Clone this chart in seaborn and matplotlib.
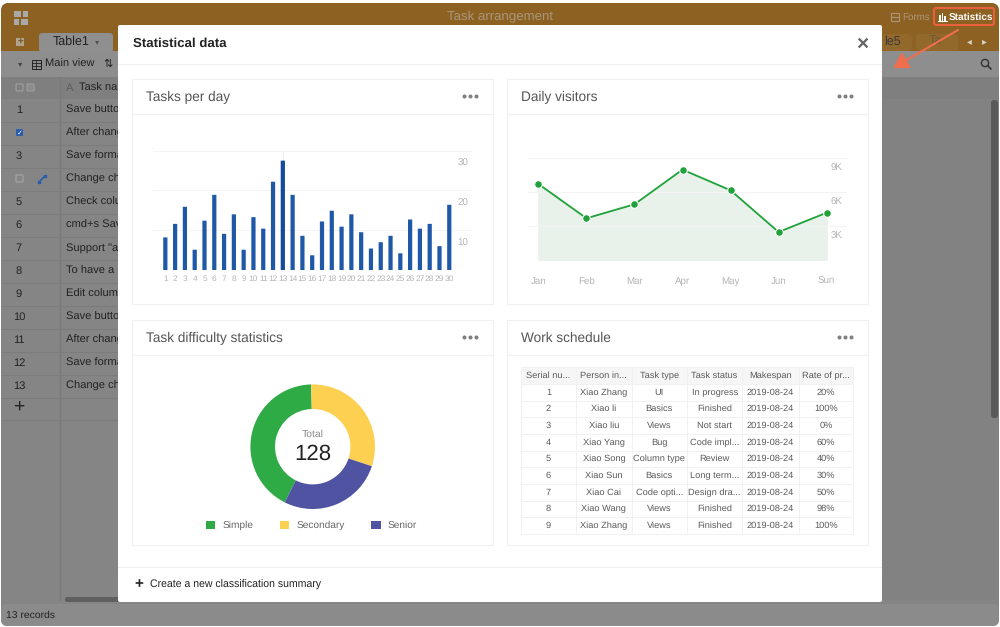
import seaborn as sns
sns.set()
import matplotlib.pyplot as plt
import numpy as np
import pandas as pd
from matplotlib.patches import FancyBboxPatch, Rectangle, FancyArrowPatch, Circle

plt.rcParams['font.family'] = ['Liberation Sans', 'DejaVu Sans']
plt.rcParams['text.hinting'] = 'no_hinting' # small labels were cramped

# data
DAYS = [str(i) for i in range(1,31)]
TASKS = [8.2,11.6,15.9,5.1,12.4,18.9,9.1,14,5.1,13.3,10.4,22.2,27.5,18.9,8.6,3.7,12.2,14.9,10.9,14,9.5,5.4,7,8.6,4.2,12.7,10.4,11.6,6,16.4]
TASK_TICKS = [0,10,20,30]

MONTHS = ['Jan','Feb','Mar','Apr','May','Jun','Sun']
VISITORS = [6690,3670,4900,7950,6130,2460,4160]
VISITOR_TICKS = [0,3000,6000,9000]

LEVELS = ['Simple','Secondary','Senior']
LEVEL_COUNTS = [54,39,35]
LEVEL_COLORS = ['#2fab46','#fdd052','#5053a2']

TABLE_HEAD = ['Serial nu...','Person in...','Task type','Task status','Makespan','Rate of pr...']
SERIALS = ['1','2','3','4','5','6','7','8','9']
PERSONS = ['Xiao Zhang','Xiao li','Xiao liu','Xiao Yang','Xiao Song','Xiao Sun','Xiao Cai','Xiao Wang','Xiao Zhang']
TASK_TYPES = ['UI','Basics','Views','Bug','Column type','Basics','Code opti...','Views','Views']
TASK_STATES = ['In progress','Finished','Not start','Code impl...','Review','Long term...','Design dra...','Finished','Finished']
SPANS = ['2019-08-24']*9
RATES = ['20%','100%','0%','60%','40%','30%','50%','98%','100%']

ROW_NAMES = ['Save button','After change','Save format','Change check','Check column','cmd+s Save','Support "at','To have a hint','Edit column','Save button','After change','Save format','Change check']

GRID = '#f4f4f6'
TICK = '#b4b4b4'


def panel(fig,x0,y0,x1,y1):
    # axes from pixel box of the 1000x627 picture
    ax = fig.add_axes([x0/1000,1-y1/627,(x1-x0)/1000,(y1-y0)/627])
    ax.set_facecolor('none')
    ax.grid(False)
    for side in ax.spines.values():
        side.set_visible(False)
    return ax

def box(ax,x0,y0,x1,y1,color,edge='none',round_by=0,zorder=1,lw=1):
    if round_by:
        patch = FancyBboxPatch((x0,y0),x1-x0,y1-y0,boxstyle='round,pad=0,rounding_size=%s'%round_by,fc=color,ec=edge,lw=lw,zorder=zorder)
    else:
        patch = Rectangle((x0,y0),x1-x0,y1-y0,fc=color,ec=edge,lw=lw,zorder=zorder)
    ax.add_patch(patch)

def draw_window(ax):
    ax.set_xlim(0,1000)
    ax.set_ylim(627,0)
    ax.set_axis_off()
    box(ax,1,3,999,626,'#858585',round_by=8)
    box(ax,1,3,999,52,'#8d6122',round_by=8)
    box(ax,1,40,999,52,'#8d6122')
    box(ax,39,33,113,52,'#8f8f8f',round_by=3,zorder=2)
    box(ax,1,51,999,77,'#8e8e8e',zorder=2)
    box(ax,1,77,999,99,'#7f7f7f',zorder=2)
    box(ax,882,99,999,600,'#828282',zorder=2)
    box(ax,1,604,999,626,'#8b8b8b',round_by=6,zorder=2)
    # logo and tab row
    for x,y,w,h in [(14,11,7,6),(23,11,5,6),(14,19,5,6),(21,19,7,6)]:
        box(ax,x,y,x+w,y+h,'#a9a9a9',zorder=3)
    box(ax,16,38,24,46,'#b0a48e',zorder=3)
    ax.text(20,42,'+',fontsize=7,fontweight='bold',color='#7a5520',ha='center',va='center',zorder=4)
    ax.text(71,42,'Table1',fontsize=9,color='#222222',ha='center',va='center',zorder=3)
    ax.text(97,42,'▾',fontsize=6,color='#555555',ha='center',va='center',zorder=3)
    ax.text(500,17,'Task arrangement',fontsize=9.5,color='#a9977c',ha='center',va='center',zorder=3)
    box(ax,882,34,912,51,'#92682b',round_by=3,zorder=2)
    box(ax,916,34,958,51,'#92682b',round_by=3,zorder=2)
    ax.text(884,42,'le5',fontsize=9,color='#3c3c3c',va='center',zorder=3)
    ax.text(929,42,'Ta',fontsize=9,color='#6e5a3c',va='center',zorder=3)
    ax.text(969,42,'◂',fontsize=7,color='#d8d0c0',ha='center',va='center',zorder=3)
    ax.text(984,42,'▸',fontsize=7,color='#d8d0c0',ha='center',va='center',zorder=3)
    box(ax,891,13,899,21,'none',edge='#a9977c',zorder=3,lw=.8)
    ax.plot([891,899],[17,17],color='#a9977c',lw=.8,zorder=3)
    ax.text(902,17,'Forms',fontsize=7,color='#a9977c',va='center',zorder=3)
    box(ax,934,8,994,25,'none',edge='#e9603c',round_by=2,zorder=3,lw=1.5)
    for x,y in [(939,15),(941.5,13),(944,16)]:
        box(ax,x,y,x+1.6,21,'white',zorder=3)
    ax.plot([938,946.5],[21,21],color='white',lw=.8,zorder=3)
    ax.text(949,17,'Statistics',fontsize=7.2,color='white',fontweight='bold',va='center',zorder=3)
    ax.add_patch(FancyArrowPatch((958,30),(893,68),arrowstyle='-|>,head_length=6,head_width=3.6',mutation_scale=1.5,color='#ee6e4f',lw=1.5,shrinkA=0,shrinkB=0,zorder=3))
    # toolbar
    ax.text(20,64,'▾',fontsize=6,color='#444444',ha='center',va='center',zorder=3)
    box(ax,32,60,41,69,'none',edge='#222222',zorder=3,lw=.7)
    ax.plot([32,41],[63,63],color='#222222',lw=.6,zorder=3)
    ax.plot([32,41],[66,66],color='#222222',lw=.6,zorder=3)
    ax.plot([36,36],[60,69],color='#222222',lw=.6,zorder=3)
    ax.text(45,64.5,'Main view',fontsize=8,color='#222222',va='center',zorder=3)
    ax.text(108,64.5,'⇅',fontsize=8,color='#222222',ha='center',va='center',zorder=3)
    ax.add_patch(Circle((985,63),3.6,fc='none',ec='#333333',lw=1,zorder=3))
    ax.plot([987.7,991],[65.7,69],color='#333333',lw=1.2,zorder=3)
    # header row of the sheet behind
    box(ax,16,84,23,91,'none',edge='#9a9a9a',round_by=1,zorder=3)
    box(ax,27,84,34,91,'#8c8c8c',edge='#9a9a9a',round_by=1,zorder=3)
    ax.text(70,88.5,'A',fontsize=8,color='#5c5c5c',ha='center',va='center',zorder=3)
    ax.text(79,88.5,'Task name',fontsize=8,color='#222222',va='center',zorder=3)
    ax.plot([60,60],[77,600],color='#7a7a7a',lw=1,zorder=3)
    for i,name in enumerate(ROW_NAMES):
        y = 110+23*i
        if i == 1:
            box(ax,16,129,23,136,'#2a5cae',round_by=1,zorder=3)
            ax.text(19.5,132.5,'✓',fontsize=5,color='white',ha='center',va='center',zorder=4)
        elif i == 3:
            box(ax,16,175,23,182,'none',edge='#a0a0a0',round_by=1,zorder=3)
            ax.plot([39,45],[182,176],color='#2a5cae',lw=1.2,zorder=3)
            ax.plot([39,45],[182,176],'s',color='#2a5cae',ms=1.8,zorder=3)
        else:
            ax.text(19,y,str(i+1),fontsize=8,color='#222222',ha='center',va='center',zorder=3)
        ax.text(66,y,name,fontsize=8,color='#222222',va='center',zorder=3)
        ax.plot([1,882],[y+11.5,y+11.5],color='#7c7c7c',lw=.8,zorder=3)
    ax.text(19,408,'+',fontsize=14,color='#222222',ha='center',va='center',zorder=3)
    ax.plot([1,882],[420,420],color='#7c7c7c',lw=.8,zorder=3)
    box(ax,65,597,130,602,'#5f5f5f',round_by=2,zorder=3)
    box(ax,991,100,998,418,'#5a5a5a',round_by=3,zorder=3)
    ax.text(6,615,'13 records',fontsize=7.5,color='#222222',va='center',zorder=3)

def draw_modal(ax):
    box(ax,118,25,882,602,'white',round_by=2,zorder=5)
    ax.plot([118,881],[64,64],color='#f0f0f0',lw=.8,zorder=6)
    ax.plot([118,881],[567,567],color='#f0f0f0',lw=.8,zorder=6)
    ax.text(133,44,'Statistical data',fontsize=9.5,fontweight='bold',color='#222222',va='center',zorder=6)
    ax.text(862,44,'×',fontsize=15,fontweight='bold',color='#666666',ha='center',va='center',zorder=6)
    ax.text(139,584,'+',fontsize=11,fontweight='bold',color='#222222',ha='center',va='center',zorder=6)
    ax.text(150,584.5,'Create a new classification summary',fontsize=7.6,color='#222222',va='center',zorder=6)
    titles = ['Tasks per day','Daily visitors','Task difficulty statistics','Work schedule']
    cards = [(132,79,493,304),(507,79,868,304),(132,320,493,545),(507,320,868,545)]
    for title,card in zip(titles,cards):
        x0,y0,x1,y1 = card
        box(ax,x0,y0,x1,y1,'white',edge='#f0f0f0',zorder=6,lw=.8)
        ax.plot([x0,x1],[y0+35,y0+35],color='#f0f0f0',lw=.8,zorder=7)
        ax.text(x0+14,y0+18,title,fontsize=9.8,color='#555555',va='center',zorder=7)
        ax.plot([x1-29,x1-23,x1-17],[y0+17,y0+17,y0+17],'o',color='#808080',ms=1.9,zorder=7)

def graph_tasks_by_day(fig):
    ax = panel(fig,152.7,150.7,471.7,270)
    data = pd.DataFrame({'day':DAYS,'tasks':TASKS})
    sns.barplot(data=data,x='day',y='tasks',color='#2058a8',saturation=1,width=.43,linewidth=0,ax=ax)
    for bar in ax.patches:
        bar.set_snap(False) # keep all bars the same width
    ax.patches[12].set_facecolor('#124a9c')
    ax.axvline(12,color='#ececec',lw=.8,zorder=0)
    ax.set_xlim(-1.29,31.29)
    ax.set_ylim(0,30)
    ax.set_yticks(TASK_TICKS)
    ax.set_yticklabels([])
    ax.grid(axis='y',color=GRID,lw=.8)
    ax.set_axisbelow(True)
    ax.set_xlabel('')
    ax.set_ylabel('')
    ax.tick_params(axis='x',length=0,pad=4,labelsize=6,labelcolor=TICK)
    ax.tick_params(axis='y',length=0)
    for tick in TASK_TICKS[1:]:
        ax.text(30.4,tick-3.2,str(tick),fontsize=7,color=TICK,ha='center',va='center')

def graph_visitors_by_month(fig):
    ax = panel(fig,528.3,157.7,847.3,260)
    data = pd.DataFrame({'month':MONTHS,'visitors':VISITORS})
    ax.fill_between(MONTHS,VISITORS,color='#e9f2ea',zorder=1)
    sns.lineplot(data=data,x='month',y='visitors',sort=False,color='#1fa23a',lw=1.3,marker='o',ms=5.5,mec='white',mew=.8,ax=ax,zorder=3)
    ax.set_xlim(-.21,6.43)
    ax.set_ylim(0,9000)
    ax.set_yticks(VISITOR_TICKS)
    ax.set_yticklabels([])
    ax.grid(axis='y',color=GRID,lw=.8)
    ax.grid(axis='x',visible=False)
    ax.set_axisbelow(False)
    ax.set_xlabel('')
    ax.set_ylabel('')
    ax.tick_params(axis='x',length=0,pad=12,labelsize=7,labelcolor=TICK)
    ax.tick_params(axis='y',length=0)
    for tick in VISITOR_TICKS[1:]:
        ax.text(6.2,tick-950,'%dK'%(tick/1000),fontsize=7,color=TICK,ha='center',va='center')

def graph_difficulty(fig):
    ax = panel(fig,250.4,384.4,375,509)
    wedges,_ = ax.pie(LEVEL_COUNTS,colors=LEVEL_COLORS,startangle=-116.7,counterclock=False,radius=1,wedgeprops={'width':.395,'linewidth':0})
    ax.set_xlim(-1,1)
    ax.set_ylim(-1,1)
    ax.text(0,.2,'Total',fontsize=7.5,color='#8a8a8a',ha='center',va='center')
    ax.text(0,-.12,str(sum(LEVEL_COUNTS)),fontsize=16,color='#222222',ha='center',va='center')
    fig.legend(wedges,LEVELS,loc='center',bbox_to_anchor=(.3115,1-525.5/627),ncol=3,frameon=False,fontsize=7.3,handlelength=.95,handleheight=.95,handletextpad=.7,columnspacing=2.6,labelcolor='#666666')

def graph_schedule(fig):
    ax = panel(fig,521,367.3,853.3,534)
    ax.set_axis_off()
    rows = list(zip(SERIALS,PERSONS,TASK_TYPES,TASK_STATES,SPANS,RATES))
    widths = np.array([55,55.7,55.3,55.3,56.4,54.6])/332.3
    table = ax.table(cellText=rows,colLabels=TABLE_HEAD,colWidths=widths,cellLoc='center',bbox=[0,0,1,1])
    table.auto_set_font_size(False)
    table.set_fontsize(6.7)
    for (row,col),cell in table.get_celld().items():
        cell.set_edgecolor('#f0f1f3')
        cell.set_linewidth(.7)
        cell.get_text().set_color('#5a5a5a')
        if row == 0:
            cell.set_facecolor('#f6f6f6')


fig = plt.figure(figsize=(10,6.27),dpi=100,facecolor='white')
back = panel(fig,0,0,1000,627)
draw_window(back)
draw_modal(back)
graph_tasks_by_day(fig)
graph_visitors_by_month(fig)
graph_difficulty(fig)
graph_schedule(fig)
plt.savefig('out.png',dpi=100)
